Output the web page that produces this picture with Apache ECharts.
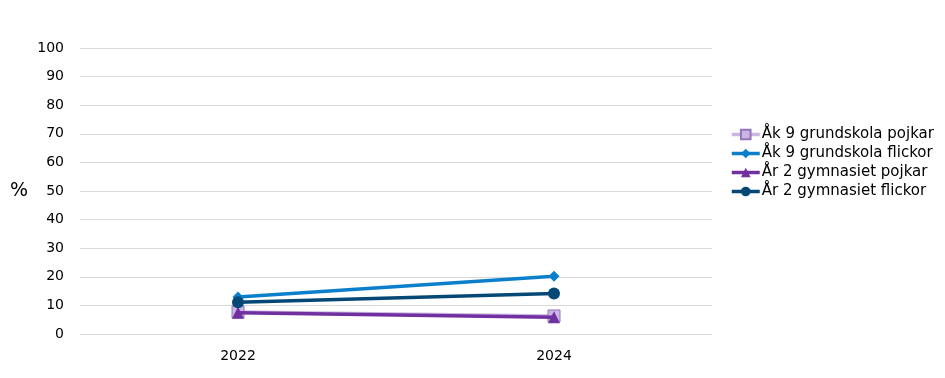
<!DOCTYPE html>
<html><head><meta charset="utf-8">
<script src="https://cdn.jsdelivr.net/npm/echarts@6/dist/echarts.min.js"></script>
<style>html,body{margin:0;padding:0;background:#fff}#c{width:945px;height:378px}</style>
</head><body><div id="c"></div>
<script>
const categories = ['2022', '2024'];
const ak9Pojkar = [7.7, 6.3];
const ak9Flickor = [12.9, 20.2];
const ar2Pojkar = [7.4, 5.9];
const ar2Flickor = [11.1, 14.2];
const seriesNames = ['Åk 9 grundskola pojkar', 'Åk 9 grundskola flickor', 'År 2 gymnasiet pojkar', 'År 2 gymnasiet flickor'];

const chart = echarts.init(document.getElementById('c'));
const font = 'DejaVu Sans, Verdana, sans-serif';
function s(name, data, color, symbol, size, itemStyle, z) {
  return {name, type: 'line', data, symbol, symbolSize: size, z,
    lineStyle: {color, width: 3.5}, itemStyle: itemStyle || {color},
    emphasis: {disabled: true}};
}
chart.setOption({
  animation: false,
  textStyle: {fontFamily: font},
  grid: {left: 80, right: 233, top: 48, bottom: 44},
  legend: {
    orient: 'vertical', left: 725, top: 122, itemGap: 4, itemWidth: 28, itemHeight: 12,
    lineStyle: {width: 3.5},
    textStyle: {fontSize: 15, color: '#000', fontFamily: font, padding: [0, 0, 0, -3]},
    data: seriesNames
  },
  xAxis: {type: 'category', data: categories, boundaryGap: true,
    axisLine: {show: false}, axisTick: {show: false},
    axisLabel: {fontSize: 14, color: '#000', margin: 15}},
  yAxis: {type: 'value', min: 0, max: 100, interval: 10,
    name: '%', nameLocation: 'middle', nameRotate: 0, nameGap: 52,
    nameTextStyle: {fontSize: 19, color: '#000'},
    axisLine: {show: false}, axisTick: {show: false},
    axisLabel: {fontSize: 14, color: '#000', margin: 16},
    splitLine: {lineStyle: {color: '#d9d9d9', width: 1}}},
  series: [
    s(seriesNames[0], ak9Pojkar, '#c9b6e2', 'rect', 12, {color: '#c9b6e2', borderColor: '#9574bb', borderWidth: 1}, 2),
    s(seriesNames[1], ak9Flickor, '#0b7fcc', 'diamond', 11, null, 3),
    s(seriesNames[2], ar2Pojkar, '#7030a0', 'triangle', 12, null, 4),
    s(seriesNames[3], ar2Flickor, '#054876', 'circle', 12, null, 5)
  ]
});
</script></body></html>
